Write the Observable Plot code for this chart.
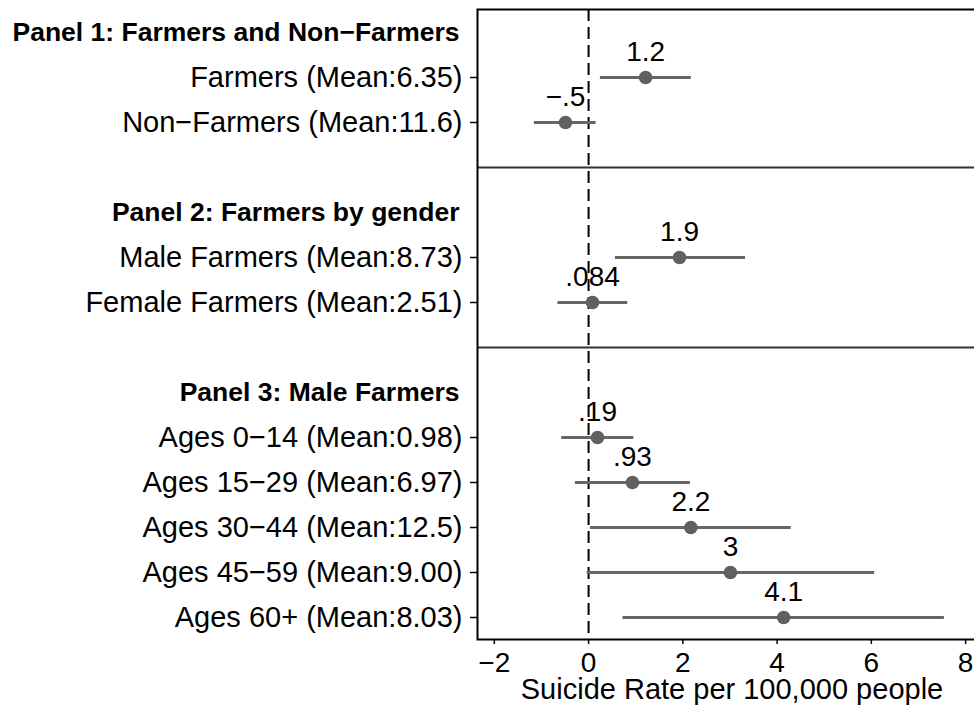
<!DOCTYPE html>
<html><head><meta charset="utf-8">
<script src="https://cdn.jsdelivr.net/npm/d3@7"></script>
<script src="https://cdn.jsdelivr.net/npm/@observablehq/plot@0.6"></script>
<style>html,body{margin:0;padding:0;overflow:hidden;background:#fff}#chart{width:974px;height:716px;overflow:hidden}#chart svg{max-width:none !important;width:980px;height:716px}</style>
</head><body><div id="chart"></div>
<script>
const panelTitles = ["Panel 1: Farmers and Non\u2212Farmers", "Panel 2: Farmers by gender", "Panel 3: Male Farmers"];
const groups = ["Farmers (Mean:6.35)", "Non\u2212Farmers (Mean:11.6)", "Male Farmers (Mean:8.73)", "Female Farmers (Mean:2.51)", "Ages 0\u221214 (Mean:0.98)", "Ages 15\u221229 (Mean:6.97)", "Ages 30\u221244 (Mean:12.5)", "Ages 45\u221259 (Mean:9.00)", "Ages 60+ (Mean:8.03)"];
const panelOf = [1, 1, 2, 2, 3, 3, 3, 3, 3];
const estimates = [1.21, -0.49, 1.93, 0.084, 0.19, 0.93, 2.17, 3.01, 4.14];
const ciLow = [0.25, -1.15, 0.57, -0.65, -0.57, -0.28, 0.04, -0.03, 0.73];
const ciHigh = [2.18, 0.16, 3.33, 0.83, 0.96, 2.16, 4.30, 6.07, 7.55];
const estLabels = ["1.2", "\u2212.5", "1.9", ".084", ".19", ".93", "2.2", "3", "4.1"];
const xTicks = [-2, 0, 2, 4, 6, 8];
const xDomain = [-2.357, 8.316];
const axisTitle = "Suicide Rate per 100,000 people";
const separators = [" ", "  "];

const rows = groups.map((g, i) => ({group: g, panel: panelOf[i], est: estimates[i], lo: ciLow[i], hi: ciHigh[i], label: estLabels[i]}));
const yDomain = [];
panelTitles.forEach((t, p) => {
  if (p > 0) yDomain.push(separators[p - 1]);
  yDomain.push(t);
  rows.filter(r => r.panel === p + 1).forEach(r => yDomain.push(r.group));
});

const chart = Plot.plot({
  width: 980, height: 716,
  marginLeft: 477, marginRight: 0, marginTop: 9, marginBottom: 77,
  style: {fontFamily: "'Liberation Sans', Arial, sans-serif", color: "#000", background: "#fff", maxWidth: "none"},
  x: {domain: xDomain},
  y: {type: "point", domain: yDomain, padding: 0.5},
  marks: [
    Plot.ruleY(separators, {stroke: "#333", strokeWidth: 2}),
    Plot.ruleX([0], {stroke: "#000", strokeWidth: 2, strokeDasharray: "12,6"}),
    Plot.frame({stroke: "#000", strokeWidth: 2}),
    Plot.axisX(xTicks, {tickSize: 5, tickPadding: 8, fontSize: 28, label: null, strokeWidth: 1.5}),
    Plot.axisY(groups, {tickSize: 7, tickPadding: 8, fontSize: 29, label: null, strokeWidth: 1.5}),
    Plot.axisY(panelTitles, {tickSize: 0, tickPadding: 18, fontSize: 26.5, fontWeight: "bold", label: null}),
    Plot.ruleY(rows, {y: "group", x1: "lo", x2: "hi", stroke: "#666", strokeWidth: 3}),
    Plot.dot(rows, {x: "est", y: "group", r: 6.8, fill: "#606060"}),
    Plot.text(rows, {x: "est", y: "group", text: "label", dy: -25, fontSize: 28, fill: "#000"}),
    Plot.text([axisTitle], {text: d => d, frameAnchor: "bottom", lineAnchor: "top", dy: 39, dx: 3, fontSize: 29, fill: "#000"})
  ]
});
document.getElementById("chart").appendChild(chart);
</script>
</body></html>
